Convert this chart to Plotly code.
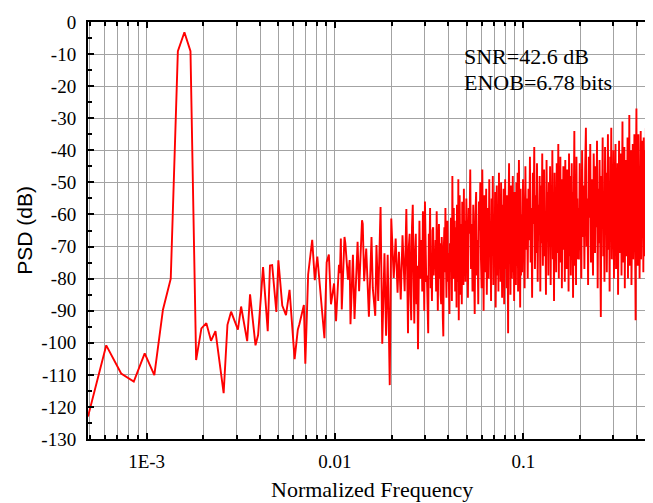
import numpy as np
import plotly.graph_objects as go

FFT_LEN = 8192

# ---- low-frequency bins ----
low_bins = [4, 5, 6, 7, 8, 9, 10, 11, 12, 13, 14, 15, 16, 17, 18, 19, 21, 22, 23, 25,
            26, 28, 29, 31, 32, 34, 36, 37, 38, 40, 41, 43, 45, 47, 50, 52, 53, 56, 57, 59,
            62, 64, 66, 68, 72, 74, 76, 78, 81, 83]
low_db = [-123, -100.8, -109.6, -112.1, -103.3, -110.1, -89.7, -80, -9.1, -3.2, -9.1, -105.4,
          -95.5, -93.9, -99.4, -96.4, -115.7, -94.4, -90.3, -95.9,
          -88.7, -99.5, -84.9, -100.8, -97.6, -76.4, -96.4, -75.9, -75.8, -90.4, -74.3, -88.4,
          -91.4, -83.5, -105.1, -95.9, -94.2, -88.2, -106.5, -78.7,
          -67.9, -80.5, -73.1, -82.6, -98.6, -74.9, -72.5, -88, -81.5, -93.3]

# ---- mid bins ----
mid_bins = [86, 87, 88, 89, 92, 93, 96, 98, 99, 102, 104, 108, 110, 114, 115, 117, 120, 124,
            128, 130, 134, 136, 139, 143, 146, 150, 153, 156, 160, 163, 168, 172, 176, 179,
            183, 187, 192, 196]
mid_db = [-75.7, -78.3, -67.5, -89.6, -67, -69, -80.3, -74.2, -94.2, -72.6, -92.6, -68.5,
          -83.9, -61.8, -62.9, -80.8, -70.6, -91.9, -67, -82.9, -91.6, -69.5, -87, -57.7,
          -100.3, -72.1, -97.8, -72.6, -113.2, -61.3, -79.8, -67.5, -84.4, -71.6, -86.5,
          -66.5, -83.9, -58.3]

# ---- dense noise floor, sampled bins ----
seg1_bins = list(range(200, 400, 2))
seg1_db = [-97, -70, -66, -85, -93, -64, -57, -78, -94, -72,
           -66, -88, -76, -102, -70, -62, -80, -75, -68, -84,
           -59, -73, -90, -56, -68, -81, -79, -88, -97, -66,
           -72, -58, -83, -74, -87, -65, -64, -79, -71, -77,
           -68, -84, -59, -75, -90, -71, -63, -80, -69, -85,
           -88, -67, -73, -92, -98, -70, -64, -78, -58, -74,
           -86, -67, -62, -81, -72, -83, -91, -69, -76, -61,
           -66, -87, -48, -73, -80, -58, -79, -62, -84, -75,
           -64, -89, -57, -72, -81, -49, -93, -68, -54, -77,
           -85, -63, -71, -88, -56, -74, -66, -82, -52, -79]

seg2_bins = list(range(400, 800, 4))
seg2_db = [-62, -81, -55, -70, -86, -58, -66, -46, -77, -63,
           -84, -57, -72, -91, -60, -53, -79, -68, -88, -56,
           -65, -50, -74, -83, -46, -69, -90, -54, -62, -78,
           -52, -85, -67, -58, -80, -49, -73, -64, -87, -55,
           -70, -48, -82, -61, -76, -53, -89, -66, -51, -79,
           -59, -84, -47, -72, -63, -81, -50, -68, -86, -57,
           -74, -52, -88, -65, -49, -77, -60, -83, -54, -70,
           -97, -56, -44, -75, -62, -85, -51, -69, -80, -58,
           -48, -78, -64, -87, -53, -71, -59, -82, -50, -67,
           -76, -47, -84, -61, -43, -73, -56, -89, -52, -79]

seg3_bins = list(range(800, 1600, 8))
seg3_db = [-60, -78, -49, -66, -83, -45, -71, -55, -80, -52,
           -68, -42, -75, -58, -86, -47, -63, -39, -77, -54,
           -72, -44, -81, -57, -65, -48, -84, -51, -69, -41,
           -76, -59, -46, -73, -62, -85, -43, -67, -53, -79,
           -50, -70, -45, -82, -56, -64, -40, -74, -61, -87,
           -47, -68, -54, -78, -44, -72, -58, -38, -80, -52,
           -66, -42, -75, -49, -83, -57, -63, -45, -71, -55,
           -81, -43, -69, -60, -77, -46, -65, -51, -84, -41,
           -73, -56, -48, -79, -62, -44, -70, -53, -86, -47,
           -67, -34, -76, -58, -50, -82, -42, -64, -55, -74]

seg4_bins = list(range(1600, 3200, 16))
seg4_db = [-58, -74, -44, -63, -80, -40, -67, -51, -77, -46,
           -33, -70, -55, -82, -42, -61, -38, -75, -49, -66,
           -79, -41, -57, -72, -45, -64, -37, -83, -52, -69,
           -43, -76, -92, -48, -60, -36, -73, -54, -81, -39,
           -65, -47, -78, -58, -35, -71, -50, -84, -42, -62,
           -33, -74, -56, -68, -40, -80, -46, -63, -38, -77,
           -52, -70, -44, -85, -59, -37, -72, -49, -66, -41,
           -79, -55, -31, -75, -47, -61, -39, -83, -53, -68,
           -43, -73, -57, -36, -80, -50, -64, -29, -76, -45,
           -69, -40, -82, -54, -62, -38, -74, -48, -66, -35]

seg5_bins = list(range(3200, 3888, 16))
seg5_db = [-56, -72, -93, -44, -27, -63, -41, -76, -50, -35,
           -68, -47, -80, -39, -60, -34, -74, -53, -71, -37,
           -58, -45, -78, -36, -65, -49, -73, -40, -62, -33,
           -70, -52, -43, -77, -57, -38, -66, -46, -75, -42,
           -61, -34, -69]

# ---- ticks and labels ----
x_major = [1e-3, 1e-2, 1e-1]
x_major_text = ["1E-3", "0.01", "0.1"]
x_minor = [m * 10.0 ** e for e in (-4, -3, -2, -1) for m in range(2, 10)]
y_ticks = list(range(0, -131, -10))
y_tick_text = [str(v) for v in y_ticks]

x_title = "Normalized Frequency"
y_title = "PSD (dB)"
snr_text = "SNR=42.6 dB"
enob_text = "ENOB=6.78 bits"

bins = low_bins + mid_bins + seg1_bins + seg2_bins + seg3_bins + seg4_bins + seg5_bins
psd = low_db + mid_db + seg1_db + seg2_db + seg3_db + seg4_db + seg5_db
freq = np.array(bins, dtype=float) / FFT_LEN

fig = go.Figure()
fig.add_trace(go.Scatter(x=freq, y=psd, mode="lines",
                         line=dict(color="#ff0000", width=1.9), showlegend=False))

x0 = np.log10(4 / FFT_LEN)
x1 = np.log10(0.5)

grid_col = "#a3a3a3"
serif_family = "Liberation Serif, Times New Roman, serif"
fig.update_xaxes(type="log", range=[x0, x1],
                 tickmode="array", tickvals=x_major, ticktext=x_major_text,
                 ticks="inside", ticklen=6, tickwidth=2, tickcolor="black",
                 showline=True, linecolor="black", linewidth=2, mirror="ticks",
                 showgrid=True, gridcolor=grid_col, gridwidth=1.3,
                 zeroline=False, ticklabeloverflow="allow",
                 tickfont=dict(family=serif_family, size=19, color="black"),
                 ticklabelstandoff=4,
                 minor=dict(tickmode="array", tickvals=x_minor, ticks="inside",
                            ticklen=4, tickwidth=1.5, tickcolor="black",
                            showgrid=True, gridcolor=grid_col, gridwidth=1.3))
fig.update_yaxes(range=[-130, 0],
                 tickmode="array", tickvals=y_ticks, ticktext=y_tick_text,
                 ticks="inside", ticklen=6, tickwidth=2, tickcolor="black",
                 showline=True, linecolor="black", linewidth=2, mirror="ticks",
                 showgrid=True, gridcolor=grid_col, gridwidth=1.3,
                 zeroline=False, ticklabeloverflow="allow",
                 tickfont=dict(family=serif_family, size=19, color="black"),
                 ticklabelstandoff=6,
                 minor=dict(tick0=0, dtick=5, ticks="inside", ticklen=4, tickwidth=1.5,
                            tickcolor="black", showgrid=False))

serif = dict(family=serif_family, size=22, color="black")
fig.add_annotation(text=x_title, xref="paper", yref="paper", x=0.5009, y=-0.121,
                   xanchor="center", yanchor="middle", showarrow=False, font=serif)
fig.add_annotation(text=y_title, xref="paper", yref="paper", x=-0.1125, y=0.5,
                   xanchor="center", yanchor="middle", showarrow=False, textangle=-90,
                   font=dict(family="Liberation Sans, Arial, sans-serif", size=21, color="black"))
fig.add_annotation(text=snr_text, xref="paper", yref="paper", x=0.659, y=0.917,
                   xanchor="left", yanchor="middle", showarrow=False, font=serif)
fig.add_annotation(text=enob_text, xref="paper", yref="paper", x=0.659, y=0.8555,
                   xanchor="left", yanchor="middle", showarrow=False, font=serif)

# page body adds an 8 px offset; margins are chosen so the plot area lands
# where the reference has it (left 88, top 17, bottom 439, right edge ~657)
fig.update_layout(width=653, height=503, margin=dict(l=80, r=4, t=9, b=72),
                  paper_bgcolor="white", plot_bgcolor="white")

fig.write_html("out.html")
